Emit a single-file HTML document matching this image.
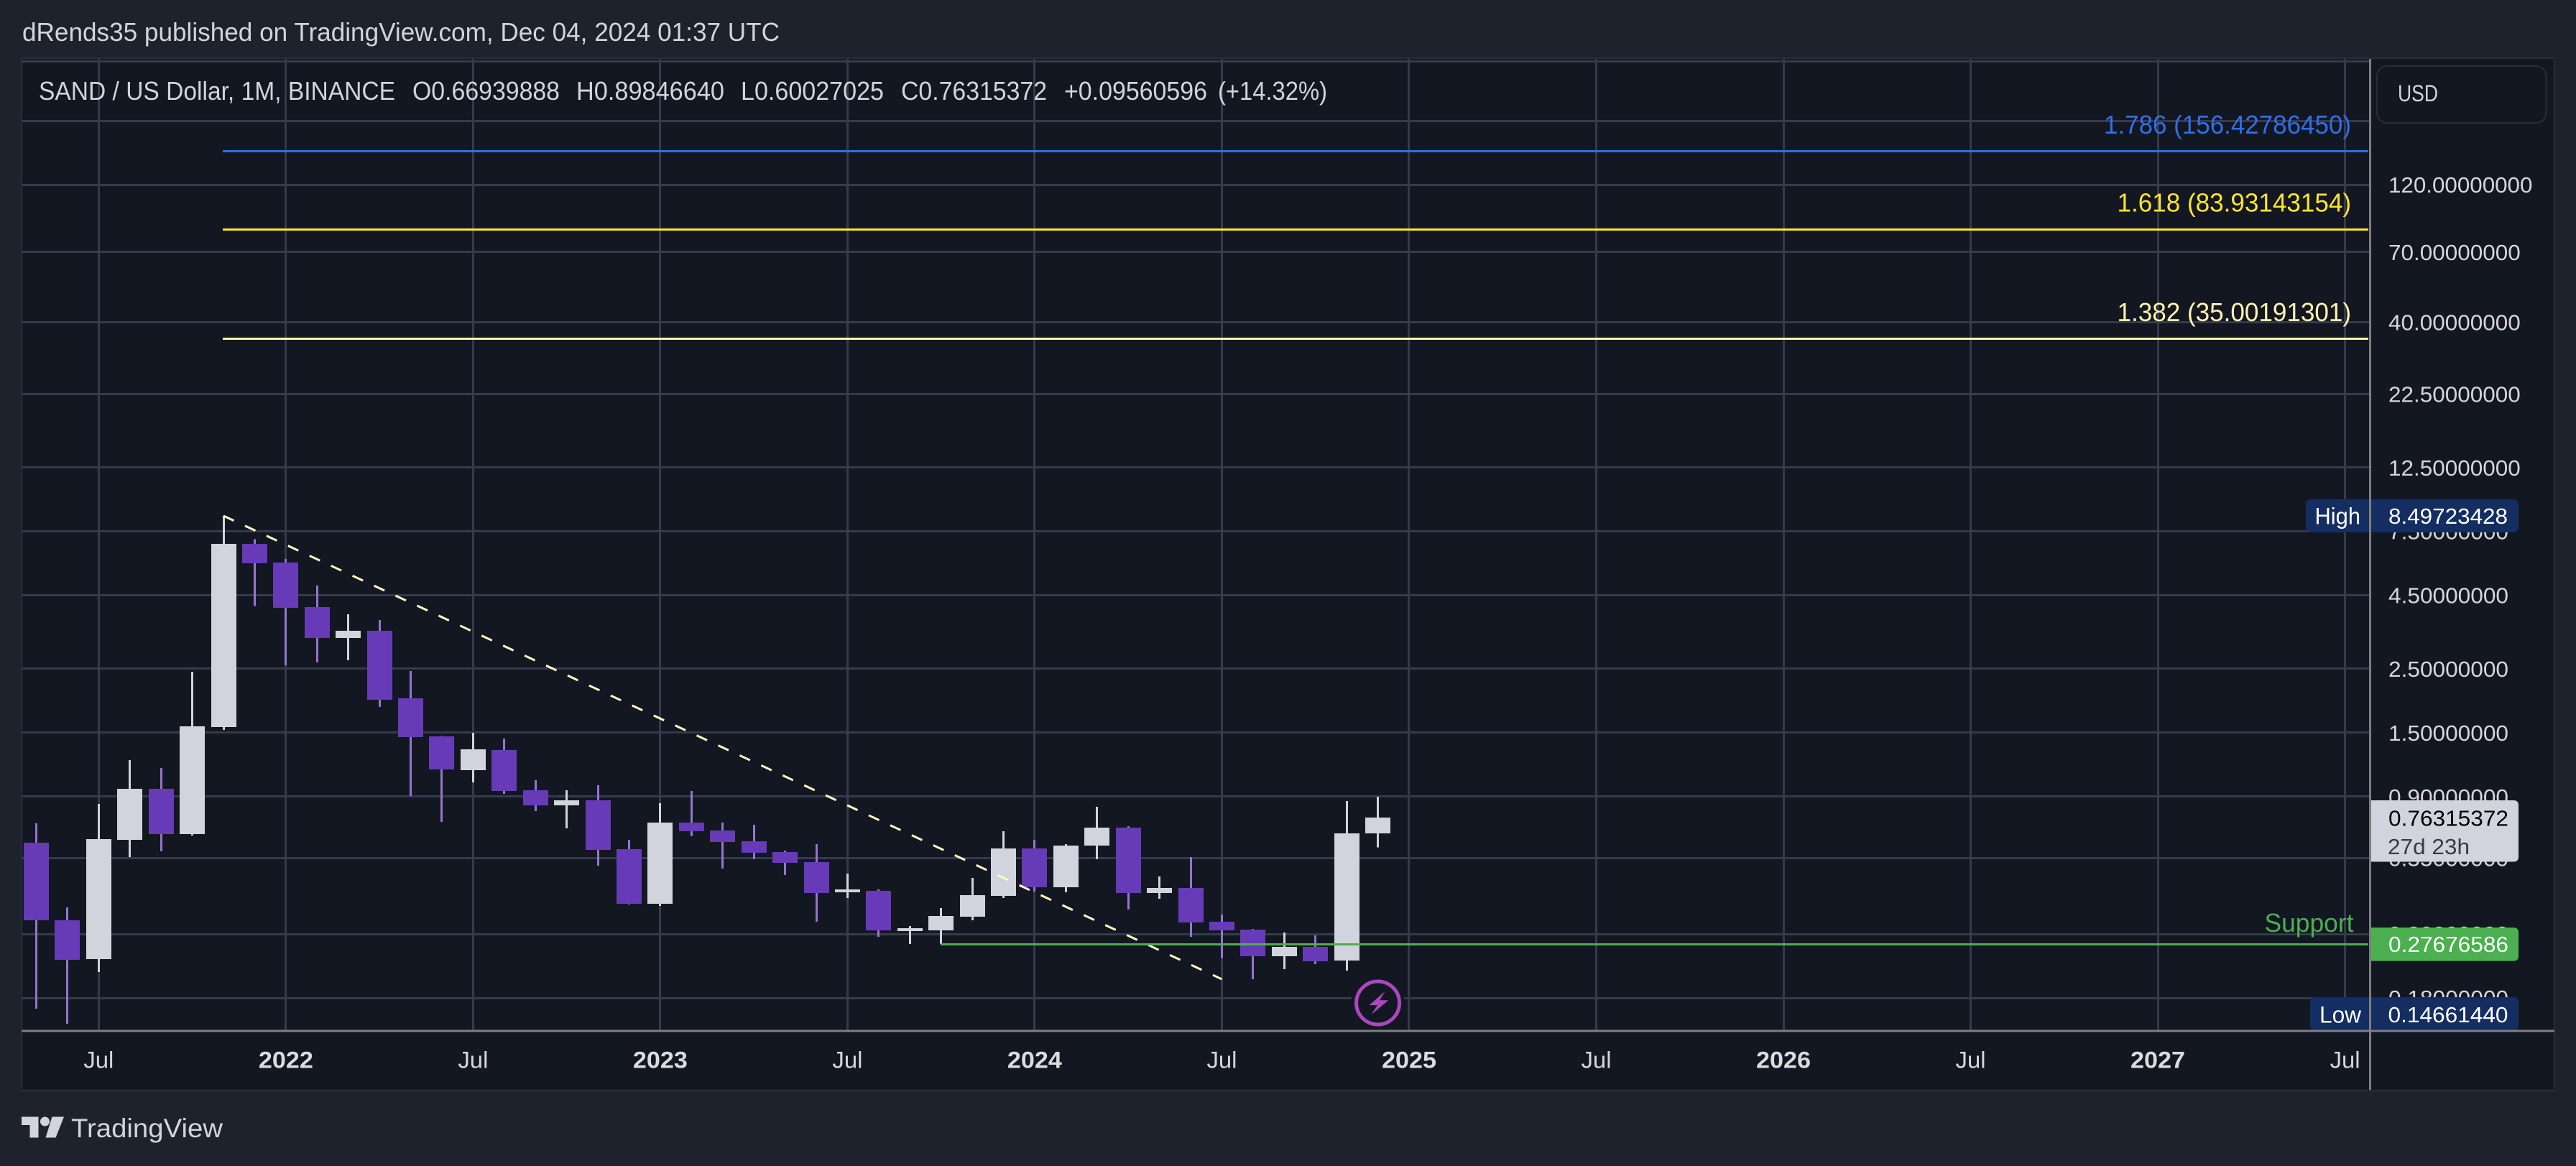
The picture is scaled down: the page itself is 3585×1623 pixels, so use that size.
<!DOCTYPE html>
<html lang="en">
<head>
<meta charset="utf-8">
<title>SAND / US Dollar monthly chart</title>
<style>
  html,body{margin:0;padding:0;background:#1e222d;}
  svg{display:block;}
  text{font-family:"Liberation Sans","DejaVu Sans",sans-serif;}
</style>
</head>
<body>
<svg id="chart" xmlns="http://www.w3.org/2000/svg" width="3585" height="1623" viewBox="0 0 3585 1623">
  <rect x="0" y="0" width="3585" height="1623" fill="#1e222d"/>
  <text x="31" y="57" font-size="36" fill="#d1d4dc" textLength="1054" lengthAdjust="spacingAndGlyphs">dRends35 published on TradingView.com, Dec 04, 2024 01:37 UTC</text>
  <rect x="30" y="81" width="3525" height="1437" fill="#131722" stroke="#2a2e39" stroke-width="2" shape-rendering="crispEdges"/>
  <g id="grid"></g>
  <g font-size="36" fill="#d1d4dc">
    <text x="54" y="139" textLength="496" lengthAdjust="spacingAndGlyphs">SAND / US Dollar, 1M, BINANCE</text>
    <text x="574" y="139" textLength="205" lengthAdjust="spacingAndGlyphs">O0.66939888</text>
    <text x="802" y="139" textLength="206" lengthAdjust="spacingAndGlyphs">H0.89846640</text>
    <text x="1031" y="139" textLength="199" lengthAdjust="spacingAndGlyphs">L0.60027025</text>
    <text x="1254" y="139" textLength="203" lengthAdjust="spacingAndGlyphs">C0.76315372</text>
    <text x="1481" y="139" textLength="199" lengthAdjust="spacingAndGlyphs">+0.09560596</text>
    <text x="1695" y="139" textLength="152" lengthAdjust="spacingAndGlyphs">(+14.32%)</text>
  </g>
  <g id="fibs"></g>
  <g id="candles"></g>
  <g id="drawings"></g>
  <g id="lightning">
    <circle cx="0" cy="0" r="37" fill="#131722"/>
    <circle cx="0" cy="0" r="30" fill="#131722" stroke="#ab47bc" stroke-width="5"/>
    <polygon points="10.2,-16.3 -12,3.1 -0.6,3.1 -9,16.3 14.7,-3.7 2.5,-3.7" fill="#ab47bc"/>
  </g>
  <g id="axis-labels"></g>
  <rect x="3308" y="92" width="235.5" height="79" rx="14" fill="#131722" stroke="#2a2e39" stroke-width="2"/>
  <text x="3337" y="141" font-size="32" fill="#d1d4dc" textLength="56" lengthAdjust="spacingAndGlyphs">USD</text>
  <g id="badges"></g>
  <rect x="30" y="1433.5" width="3525" height="3" fill="#7f7f7f" shape-rendering="crispEdges"/>
  <rect x="3297" y="82" width="3" height="1435" fill="#7f7f7f" shape-rendering="crispEdges"/>
  <g>
    <g fill="#d1d4dc">
      <polygon points="30,1554.5 53.5,1554.5 53.5,1583.5 41.5,1583.5 41.5,1566 30,1566"/>
      <circle cx="62.5" cy="1561" r="6.5"/>
      <polygon points="72.5,1554.5 89,1554.5 77.5,1583.5 63.5,1583.5"/>
    </g>
    <text x="99" y="1583" font-size="37" fill="#d1d4dc" textLength="211" lengthAdjust="spacingAndGlyphs">TradingView</text>
  </g>
</svg>
<script>
// Monthly candles, May 2021 through Dec 2024
const months = ['2021-05','2021-06','2021-07','2021-08','2021-09','2021-10','2021-11','2021-12','2022-01','2022-02','2022-03','2022-04','2022-05','2022-06','2022-07','2022-08','2022-09','2022-10','2022-11','2022-12','2023-01','2023-02','2023-03','2023-04','2023-05','2023-06','2023-07','2023-08','2023-09','2023-10','2023-11','2023-12','2024-01','2024-02','2024-03','2024-04','2024-05','2024-06','2024-07','2024-08','2024-09','2024-10','2024-11','2024-12'];
const opens  = [0.6226,0.3348,0.2456,0.6371,0.958,0.6671,1.57,6.807,5.849,4.097,3.2,3.389,1.975,1.457,1.112,1.306,0.947,0.8394,0.8739,0.5913,0.3821,0.7313,0.6865,0.6299,0.5778,0.5332,0.4189,0.4237,0.3072,0.3089,0.3446,0.4071,0.5947,0.4361,0.6085,0.7025,0.4165,0.4336,0.331,0.3107,0.2513,0.2707,0.2428,0.66939888];
const highs  = [0.7271,0.3713,0.8491,1.205,1.1315,2.443,8.497,7.05,6.02,4.867,3.868,3.695,2.457,1.459,1.4995,1.432,1.026,0.947,0.9858,0.6371,0.854,0.9416,0.7313,0.7188,0.5845,0.6156,0.4864,0.4286,0.3198,0.3692,0.4699,0.6826,0.6371,0.6156,0.8298,0.7106,0.4753,0.5551,0.3506,0.3125,0.3037,0.2968,0.8689,0.8984664];
const lows   = [0.1652,0.14661,0.2214,0.5551,0.5812,0.6595,1.534,4.13,2.573,2.632,2.678,1.844,0.9045,0.7355,1.009,0.9202,0.8016,0.6985,0.5181,0.38,0.3756,0.6557,0.5063,0.5456,0.4808,0.331,0.4001,0.2934,0.277,0.277,0.3348,0.4001,0.4213,0.4189,0.5456,0.365,0.3978,0.2934,0.247,0.2091,0.2266,0.2359,0.224,0.60027025];
const closes = [0.3348,0.2442,0.6408,0.958,0.6671,1.579,6.79,5.815,4.073,3.2,3.389,1.952,1.449,1.119,1.314,0.9416,0.8394,0.8739,0.5879,0.3821,0.7313,0.6826,0.6262,0.5745,0.5302,0.4165,0.4286,0.3089,0.3143,0.3466,0.4094,0.5947,0.4361,0.6085,0.7025,0.4165,0.4336,0.3291,0.3089,0.2513,0.2707,0.2414,0.6709,0.76315372];

// Axis ticks
const priceTicks = [120,70,40,22.5,12.5,7.5,4.5,2.5,1.5,0.9,0.55,0.3,0.18];
const priceTickLabels = ['120.00000000','70.00000000','40.00000000','22.50000000','12.50000000','7.50000000','4.50000000','2.50000000','1.50000000','0.90000000','0.55000000','0.30000000','0.18000000'];
const hiddenLabelPriceTicks = [322,200];
const timeTickDates = ['2021-07','2022-01','2022-07','2023-01','2023-07','2024-01','2024-07','2025-01','2025-07','2026-01','2026-07','2027-01','2027-07'];
const timeTickLabels = ['Jul','2022','Jul','2023','Jul','2024','Jul','2025','Jul','2026','Jul','2027','Jul'];

// Drawings
const fibRatios = ['1.786','1.618','1.382'];
const fibPrices = [156.4278645,83.93143154,35.00191301];
const fibPriceTexts = ['156.42786450','83.93143154','35.00191301'];
const fibStartDate = '2021-11';
const trendDates = ['2021-11','2024-07'];
const trendPrices = [8.49723428,0.2091];
const supportStartDate = '2023-10';
const supportPrice = 0.27676586;
const highPrice = 8.49723428;
const lowPrice = 0.1466144;
const lastPrice = 0.76315372;

const NS = 'http://www.w3.org/2000/svg';
function yScale(p){ return 257 + 174.1 * (Math.log(120) - Math.log(p)); }
function xScale(d){
  const parts = d.split('-');
  const idx = (Number(parts[0]) - 2021) * 12 + (Number(parts[1]) - 5);
  return 50.5 + 43.42 * idx;
}
function add(parent, tag, attrs, text){
  const el = document.createElementNS(NS, tag);
  for (const k in attrs) el.setAttribute(k, attrs[k]);
  if (text !== undefined) el.textContent = text;
  parent.appendChild(el);
  return el;
}
// label with a vertically centred position
function label(parent, x, cy, size, fill, len, str, anchor, weight){
  const a = {x:x, y:cy + size * 0.355, 'font-size':size, fill:fill, textLength:len, lengthAdjust:'spacingAndGlyphs'};
  if (anchor) a['text-anchor'] = anchor;
  if (weight) a['font-weight'] = weight;
  return add(parent, 'text', a, str);
}
const RIGHT = 3297, LEFT = 31, GRID_TOP = 82, GRID_BOTTOM = 1434;
const grid = document.getElementById('grid');
const fibs = document.getElementById('fibs');
const candles = document.getElementById('candles');
const drawings = document.getElementById('drawings');
const axisLabels = document.getElementById('axis-labels');
const badges = document.getElementById('badges');
const GRID_COLOR = '#363a4b';

// horizontal grid
hiddenLabelPriceTicks.concat(priceTicks).forEach(function(p){
  const el = add(grid, 'rect', {x:LEFT, y:Math.round(yScale(p) - 1.5), width:RIGHT - LEFT, height:3, fill:GRID_COLOR, 'shape-rendering':'crispEdges'});
  
  
});
// vertical grid
timeTickDates.forEach(function(d){
  const el = add(grid, 'rect', {x:Math.round(xScale(d) - 1.5), y:GRID_TOP, width:3, height:GRID_BOTTOM - GRID_TOP, fill:GRID_COLOR, 'shape-rendering':'crispEdges'});
  
  
});

// fibonacci levels
const fibColors = ['#2962ff','#ffeb3b','#fff9c4'];
const fibDrawColors = ['#2f6fe8','#fde52e','#fff4b0'];
const fibLabelStart = [2928,2946.5,2946.5];
fibPrices.forEach(function(p, i){
  const y = yScale(p);
  const line = add(fibs, 'rect', {x:Math.round(xScale(fibStartDate) - 1), y:Math.round(y - 1.5), width:RIGHT - 1 - Math.round(xScale(fibStartDate) - 1), height:3, fill:fibDrawColors[i], 'shape-rendering':'crispEdges'});
  
  
  const t = label(fibs, fibLabelStart[i], y - 37.5, 36, fibDrawColors[i], 3272 - fibLabelStart[i], fibRatios[i] + ' (' + fibPriceTexts[i] + ')');
  
  
});

// candles
const UP_BODY = '#d1d4dc', DOWN_BODY = '#673ab7', UP_WICK = '#d1d4dc', DOWN_WICK = '#9575cd';
months.forEach(function(m, i){
  const xc = xScale(m);
  const up = closes[i] >= opens[i];
  const g = add(candles, 'g', {});
  
  
  const wick = add(g, 'rect', {x:Math.round(xc - 1.5), y:yScale(highs[i]), width:3, height:yScale(lows[i]) - yScale(highs[i]), fill:up ? UP_WICK : DOWN_WICK, 'shape-rendering':'crispEdges'});
  
  
  const top = yScale(Math.max(opens[i], closes[i]));
  const bot = yScale(Math.min(opens[i], closes[i]));
  const body = add(g, 'rect', {x:Math.round(xc - 17.5), y:Math.round(top), width:35, height:Math.max(2, Math.round(bot) - Math.round(top)), fill:up ? UP_BODY : DOWN_BODY, 'shape-rendering':'crispEdges'});
  
  
});

// dashed trend line
const trend = add(drawings, 'line', {x1:xScale(trendDates[0]), y1:yScale(trendPrices[0]), x2:xScale(trendDates[1]), y2:yScale(trendPrices[1]), stroke:'#fff9c4', 'stroke-width':3, 'stroke-dasharray':'16 17'});



// support line + label
const supportY = yScale(supportPrice);
const supportLine = add(drawings, 'rect', {x:Math.round(xScale(supportStartDate) - 1), y:Math.round(supportY - 1.5), width:RIGHT - 1 - Math.round(xScale(supportStartDate) - 1), height:3, fill:'#4caf50', 'shape-rendering':'crispEdges'});


const supportText = label(drawings, 3151.5, supportY - 30, 36, '#4caf50', 124, 'Support');



// lightning marker
document.getElementById('lightning').setAttribute('transform', 'translate(' + xScale('2024-12') + ',1396)');

// price tick labels
priceTicks.forEach(function(p, i){
  const s = priceTickLabels[i];
  const t = label(axisLabels, 3324, yScale(p), 31, '#d6d6da', s.length * 16.7, s);
  
  
});
// time tick labels
timeTickDates.forEach(function(d, i){
  const s = timeTickLabels[i];
  const isYear = s.length === 4;
  const t = label(axisLabels, xScale(d), 1475, 32, isYear ? '#dcdcdf' : '#d6d6da', isYear ? 76 : 42, s, 'middle', isYear ? 'bold' : null);
  
  
});

// price badges
function rightRounded(x, y, w, h, r){
  return 'M' + x + ' ' + y + 'H' + (x + w - r) + 'Q' + (x + w) + ' ' + y + ' ' + (x + w) + ' ' + (y + r) + 'V' + (y + h - r) + 'Q' + (x + w) + ' ' + (y + h) + ' ' + (x + w - r) + ' ' + (y + h) + 'H' + x + 'Z';
}
const NAVY = '#142e61';
const highY = yScale(highPrice);
const highBadge = add(badges, 'rect', {x:3209, y:highY - 23, width:296, height:46, rx:7, fill:NAVY});


const highWord = label(badges, 3221.5, highY, 32, '#ffffff', 63.5, 'High');


const highValue = label(badges, 3324, highY, 31, '#ffffff', 166, highPrice.toFixed(8));



const lastY = yScale(lastPrice);
const lastBadge = add(badges, 'path', {d:rightRounded(3299, lastY - 23.5, 206, 85.5, 7), fill:'#d1d4dc'});


const lastValue = label(badges, 3324, lastY + 1, 31, '#000000', 167, lastPrice.toFixed(8));


const countdown = label(badges, 3323, lastY + 40.5, 31, '#3a3b40', 114, '27d 23h');



const supBadge = add(badges, 'path', {d:rightRounded(3299, supportY - 23, 206, 46.5, 7), fill:'#4caf50'});


const supValue = label(badges, 3324, supportY, 31, '#ffffff', 167, supportPrice.toFixed(8));



const lowTop = Math.min(yScale(lowPrice) - 23, 1388);
const lowBox = add(badges, 'path', {d:'M3297 ' + lowTop + 'V' + (lowTop + 46) + 'H3222Q3215 ' + (lowTop + 46) + ' 3215 ' + (lowTop + 39) + 'V' + (lowTop + 7) + 'Q3215 ' + lowTop + ' 3222 ' + lowTop + 'Z', fill:NAVY});


const lowValBox = add(badges, 'path', {d:rightRounded(3299, lowTop, 206, 46, 7), fill:NAVY});


const lowWord = label(badges, 3228, lowTop + 24, 32, '#ffffff', 58, 'Low');


const lowValue = label(badges, 3323.5, lowTop + 24, 31, '#ffffff', 167, lowPrice.toFixed(8));


</script>
</body>
</html>
